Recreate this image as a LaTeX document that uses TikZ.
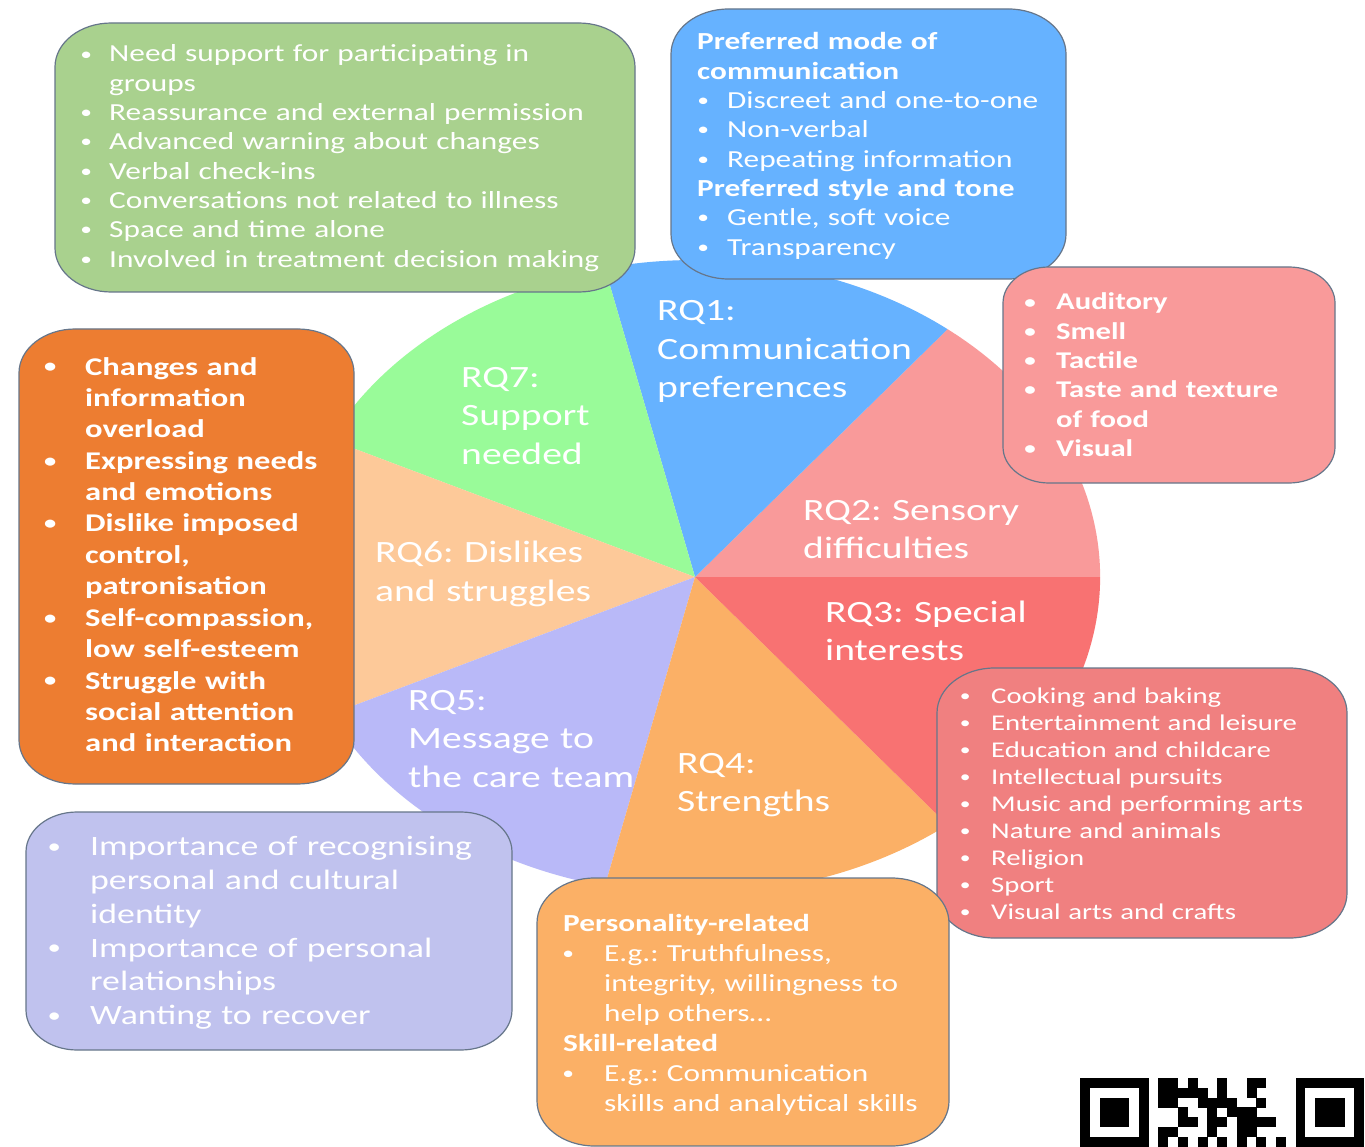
\documentclass[tikz,border=0pt]{standalone}
\usepackage{fontspec}
\setmainfont{Carlito}[FakeStretch=1.278]
\definecolor{cGreenBox}{HTML}{A9D18E}
\definecolor{cBlue}{HTML}{66B2FF}
\definecolor{cPink}{HTML}{F99A9A}
\definecolor{cRed3}{HTML}{F87272}
\definecolor{cRedBox}{HTML}{F08080}
\definecolor{cOrange}{HTML}{ED7D31}
\definecolor{cOrange4}{HTML}{FBB066}
\definecolor{cLav}{HTML}{B9B9F8}
\definecolor{cLavBox}{HTML}{C0C2EE}
\definecolor{cPeach}{HTML}{FDC999}
\definecolor{cPale}{HTML}{99FB99}
\definecolor{cEdge}{HTML}{66768A}
% bullet: #1 = twice the distance from bullet centre to text start
\newcommand\bu[1]{\leavevmode\llap{\makebox[#1pt][c]{\raisebox{0.08em}{\scalebox{0.75}{•}}}}}
% rounded box with elliptic corners: x1 y1 x2 y2 r fill
\newcommand\roundbox[6]{%
  \filldraw[boxline, fill=#6] ({#1+1.278*#5},#2) -- ({#3-1.278*#5},#2)
    arc[start angle=-90, end angle=0, x radius={1.278*#5}, y radius=#5]
    -- (#3,{#4-#5}) arc[start angle=0, end angle=90, x radius={1.278*#5}, y radius=#5]
    -- ({#1+1.278*#5},#4) arc[start angle=90, end angle=180, x radius={1.278*#5}, y radius=#5]
    -- (#1,{#2+#5}) arc[start angle=180, end angle=270, x radius={1.278*#5}, y radius=#5] -- cycle;}
\frenchspacing
\begin{document}
\frenchspacing
\begin{tikzpicture}[x=1pt, y=-1pt,
  boxline/.style={draw=cEdge, line width=1.2pt},
  lbl/.style={anchor=base west, inner sep=0pt, text=white, align=left, text width=400pt,
              font=\frenchspacing\fontsize{31}{38.5}\selectfont},
  btxt/.style={anchor=base west, inner sep=0pt, text=white, align=left, text width=600pt},
  qrmod/.style={fill=black}]
\useasboundingbox (0,0) rectangle (1365,1147);
\clip (0,0) rectangle (1365,1147);
\fill[white] (0,0) rectangle (1365,1147);

% ---------------- pie ----------------
\begin{scope}[shift={(695,577)}, xscale=1.278, yscale=-1]
  \fill[cPink]    (0,0) -- (0:317)      arc[start angle=0,      end angle=51.43,  radius=317] -- cycle;
  \fill[cBlue]    (0,0) -- (51.43:317)  arc[start angle=51.43,  end angle=102.86, radius=317] -- cycle;
  \fill[cPale]    (0,0) -- (102.86:317) arc[start angle=102.86, end angle=154.29, radius=317] -- cycle;
  \fill[cPeach]   (0,0) -- (154.29:317) arc[start angle=154.29, end angle=205.71, radius=317] -- cycle;
  \fill[cLav]     (0,0) -- (205.71:317) arc[start angle=205.71, end angle=257.14, radius=317] -- cycle;
  \fill[cOrange4] (0,0) -- (257.14:317) arc[start angle=257.14, end angle=308.57, radius=317] -- cycle;
  \fill[cRed3]    (0,0) -- (308.57:317) arc[start angle=308.57, end angle=360,    radius=317] -- cycle;
\end{scope}

\node[lbl] (rq1) at (657,321)   {RQ1:\\Communication\\preferences};
\node[lbl] (rq2) at (803,520)   {RQ2: Sensory\\difficulties};
\node[lbl] (rq3) at (825,622)   {RQ3: Special\\interests};
\node[lbl] (rq4) at (677,773)   {RQ4:\\Strengths};
\node[lbl] (rq5) at (408,710)   {RQ5:\\Message to\\the care team};
\node[lbl] (rq6) at (375,562.5) {RQ6: Dislikes\\and struggles};
\node[lbl] (rq7) at (461,387.5) {RQ7:\\Support\\needed};

% ---------------- boxes ----------------
\roundbox{55}{23}{635}{292}{44}{cGreenBox}
\node[btxt, font=\frenchspacing\fontsize{24.5}{29.3}\selectfont] (support) at (109,62)
  {\bu{46}Need support for participating in\\groups\\
   \bu{46}Reassurance and external permission\\
   \bu{46}Advanced warning about changes\\
   \bu{46}Verbal check-ins\\
   \bu{46}Conversations not related to illness\\
   \bu{46}Space and time alone\\
   \bu{46}Involved in treatment decision making};

\roundbox{671}{9}{1066}{279}{45}{cBlue}
\node[btxt, font=\frenchspacing\fontsize{24.5}{29.3}\selectfont] (comm) at (697,50)
  {\textbf{Preferred mode of}\\\textbf{communication}\\
   \hspace*{30pt}\bu{48}Discreet and one-to-one\\
   \hspace*{30pt}\bu{48}Non-verbal\\
   \hspace*{30pt}\bu{48}Repeating information\\
   \textbf{Preferred style and tone}\\
   \hspace*{30pt}\bu{48}Gentle, soft voice\\
   \hspace*{30pt}\bu{48}Transparency};

\roundbox{1003}{267}{1335}{483}{36}{cPink}
\node[btxt, font=\frenchspacing\bfseries\fontsize{24}{29.3}\selectfont] (sensory) at (1056,310)
  {\bu{52}Auditory\\\bu{52}Smell\\\bu{52}Tactile\\\bu{52}Taste and texture\\of food\\\bu{52}Visual};

\roundbox{19}{329}{354}{784}{44}{cOrange}
\node[btxt, font=\frenchspacing\bfseries\fontsize{25.5}{31.4}\selectfont] (dislikes) at (85,375)
  {\bu{70}Changes and\\information\\overload\\
   \bu{70}Expressing needs\\and emotions\\
   \bu{70}Dislike imposed\\control,\\patronisation\\
   \bu{70}Self-compassion,\\low self-esteem\\
   \bu{70}Struggle with\\social attention\\and interaction};

\roundbox{937}{668}{1347}{938}{45}{cRedBox}
\node[btxt, font=\frenchspacing\fontsize{22.5}{27}\selectfont] (interests) at (991,703.3)
  {\bu{52}Cooking and baking\\
   \bu{52}Entertainment and leisure\\
   \bu{52}Education and childcare\\
   \bu{52}Intellectual pursuits\\
   \bu{52}Music and performing arts\\
   \bu{52}Nature and animals\\
   \bu{52}Religion\\
   \bu{52}Sport\\
   \bu{52}Visual arts and crafts};

\roundbox{26}{812}{512}{1050}{40}{cLavBox}
\node[btxt, font=\frenchspacing\fontsize{28}{33.8}\selectfont] (message) at (90,855.7)
  {\bu{72}Importance of recognising\\personal and cultural\\identity\\
   \bu{72}Importance of personal\\relationships\\
   \bu{72}Wanting to recover};

\roundbox{537}{878}{949}{1146}{45}{cOrange4}
\node[btxt, font=\frenchspacing\fontsize{24.5}{30}\selectfont] (strengths) at (563,931.7)
  {\textbf{Personality-related}\\
   \hspace*{41pt}\bu{72}E.g.: Truthfulness,\\
   \hspace*{41pt}integrity, willingness to\\
   \hspace*{41pt}help others…\\
   \textbf{Skill-related}\\
   \hspace*{41pt}\bu{72}E.g.: Communication\\
   \hspace*{41pt}skills and analytical skills};

% ---------------- QR code (cropped) ----------------
\begin{scope}
  \fill[qrmod] (1080,1078) rectangle +(68.6,68.6);
  \fill[white] (1089.8,1087.8) rectangle +(49,49);
  \fill[qrmod] (1099.6,1097.6) rectangle +(29.4,29.4);
  \fill[qrmod] (1295.6,1078) rectangle +(68.6,68.6);
  \fill[white] (1305.4,1087.8) rectangle +(49,49);
  \fill[qrmod] (1315.2,1097.6) rectangle +(29.4,29.4);
  \foreach \mc/\mr in {0/0,1/0,3/0,6/0,9/0,10/0,
                       0/1,1/1,2/1,3/1,4/1,6/1,9/1,
                       0/2,1/2,4/2,5/2,6/2,7/2,10/2,
                       2/3,5/3,7/3,8/3,9/3,
                       2/4,3/4,5/4,6/4,8/4,9/4,10/4,11/4,
                       0/5,1/5,5/5,8/5,9/5,
                       0/6,2/6,4/6,6/6,8/6,10/6,12/6}
    \fill[qrmod] ({1080+(8+\mc)*9.8},{1078+\mr*9.8}) rectangle +(9.9,9.9);
\end{scope}
\end{tikzpicture}
\end{document}
